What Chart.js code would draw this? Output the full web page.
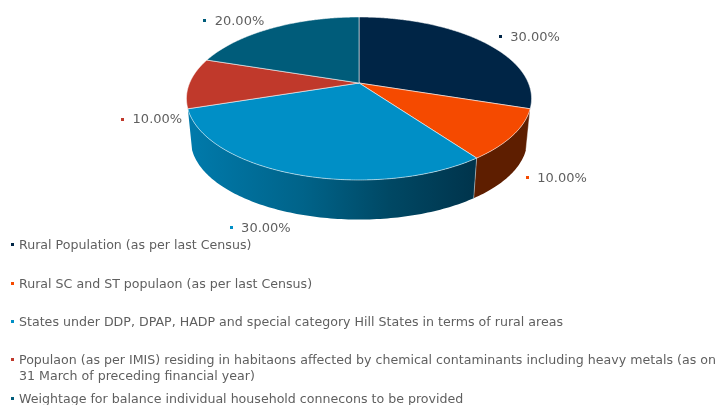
<!DOCTYPE html>
<html>
<head>
<meta charset="utf-8">
<script src="https://cdn.jsdelivr.net/npm/chart.js@4"></script>
<style>
html,body{margin:0;padding:0;background:#fff;width:717px;height:405px;overflow:hidden}
#wrap{position:relative;width:717px;height:405px;filter:blur(0.35px)}
canvas{position:absolute;left:0;top:0}
#legend{position:absolute;left:0;top:0;margin:0;padding:0;list-style:none;font:12.62px/16px "DejaVu Sans",sans-serif;color:#5f5f5f}
#legend li{position:absolute;left:19px;width:705px}
#legend i{position:absolute;left:-8px;top:6px;width:3px;height:3px}
</style>
</head>
<body>
<div id="wrap"><canvas id="c" width="717" height="405"></canvas><ul id="legend"></ul></div>
<script>
const categories = [
  "Rural Population (as per last Census)",
  "Rural SC and ST populaon (as per last Census)",
  "States under DDP, DPAP, HADP and special category Hill States in terms of rural areas",
  "Populaon (as per IMIS) residing in habitaons affected by chemical contaminants including heavy metals (as on 31 March of preceding financial year)",
  "Weightage for balance individual household connecons to be provided"
];
const shares = [30, 10, 30, 10, 20];
const valueLabels = ["30.00%", "10.00%", "30.00%", "10.00%", "20.00%"];
const sliceColors = ["#002546", "#f54a00", "#008fc6", "#c0392b", "#005c7a"];
const legendTops = [237, 276, 314, 352, 391];
const labelOffsets = [[18,-4.5],[14,43],[-64,53],[-67,36],[-68,-7]];

const CX = 359, CY = 83, RX = 169.4, RY = 78.55, P = 0.19, DEPTH_S = 0.975, DEPTH_Y = 125;
function proj(a, r){
  const X = r*Math.cos(a), Y = r*Math.sin(a), w = 1 - P*Y;
  return [CX + RX*X/w, CY + RY*Y/w];
}
function projBottom(a){
  const p = proj(a,1);
  return [CX + DEPTH_S*(p[0]-CX), DEPTH_Y + DEPTH_S*(p[1]-CY)];
}
const STEP = Math.PI/180;
const pie3d = {
  id:'pie3d',
  beforeDatasetDraw(chart){
    const ctx = chart.ctx, arcs = chart.getDatasetMeta(0).data;
    const lo = 17.5*STEP, hi = 162.5*STEP;
    // side walls of the two front slices
    [1,2].forEach(i=>{
      const p = arcs[i].getProps(['startAngle','endAngle']);
      const s = Math.max(p.startAngle,lo), e = Math.min(p.endAngle,hi);
      ctx.beginPath();
      for(let a=s;a<e;a+=STEP){const q=proj(a,1);ctx.lineTo(q[0],q[1]);}
      let q=proj(e,1);ctx.lineTo(q[0],q[1]);
      for(let a=e;a>s;a-=STEP){q=projBottom(a);ctx.lineTo(q[0],q[1]);}
      q=projBottom(s);ctx.lineTo(q[0],q[1]);
      ctx.closePath();
      if(i===1){ctx.fillStyle='#5e1e00';}
      else{
        const g=ctx.createLinearGradient(190,0,475,0);
        g.addColorStop(0,'#007aab');g.addColorStop(.4,'#006389');g.addColorStop(.7,'#004864');g.addColorStop(1,'#00344c');
        ctx.fillStyle=g;
      }
      ctx.fill();
      ctx.strokeStyle='rgba(255,255,255,.5)';ctx.lineWidth=.8;
      ctx.beginPath();q=proj(s,1);ctx.moveTo(q[0],q[1]);q=projBottom(s);ctx.lineTo(q[0],q[1]);ctx.stroke();
    });
    // top faces
    arcs.forEach((arc)=>{
      const p = arc.getProps(['startAngle','endAngle']);
      ctx.beginPath();ctx.moveTo(CX,CY);
      for(let a=p.startAngle;a<p.endAngle;a+=STEP/2){const q=proj(a,1);ctx.lineTo(q[0],q[1]);}
      const q=proj(p.endAngle,1);ctx.lineTo(q[0],q[1]);ctx.closePath();
      ctx.fillStyle=arc.options.backgroundColor;ctx.fill();
      ctx.strokeStyle='rgba(255,255,255,.6)';ctx.lineWidth=.9;ctx.stroke();
    });
    // value labels
    ctx.font='13px "DejaVu Sans",sans-serif';ctx.textBaseline='middle';ctx.textAlign='left';
    arcs.forEach((arc,i)=>{
      const p = arc.getProps(['startAngle','endAngle']);
      const q = proj((p.startAngle+p.endAngle)/2,1);
      const x=q[0]+labelOffsets[i][0], y=q[1]+labelOffsets[i][1];
      ctx.fillStyle=arc.options.backgroundColor;ctx.fillRect(Math.round(x-1.5),Math.round(y-1.5),3,3);
      ctx.fillStyle='#5f5f5f';ctx.fillText(valueLabels[i],x+10,y+1);
    });
    return false;
  }
};
new Chart(document.getElementById('c'),{
  type:'pie',
  data:{labels:categories,datasets:[{data:shares,backgroundColor:sliceColors,borderWidth:0}]},
  options:{responsive:false,animation:false,events:[],plugins:{legend:{display:false},tooltip:{enabled:false}}},
  plugins:[pie3d]
});
const ul=document.getElementById('legend');
categories.forEach((text,n)=>{
  const li=document.createElement('li');
  li.style.top=legendTops[n]+'px';
  li.textContent=text;
  const m=document.createElement('i');m.style.background=sliceColors[n];
  li.appendChild(m);ul.appendChild(li);
});
</script>
</body>
</html>
